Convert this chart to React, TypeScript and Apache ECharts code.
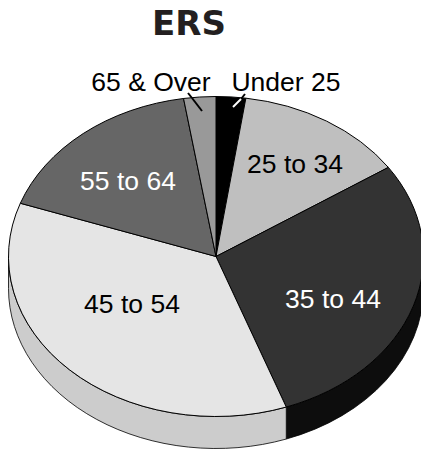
import React, { useEffect, useRef } from "react";
import * as echarts from "echarts";

const categories = ["Under 25", "25 to 34", "35 to 44", "45 to 54", "55 to 64", "65 & Over"];
const shares = [2.3, 13.3, 28.9, 35.9, 17.1, 2.5];

const topColors = ["#000000", "#bfbfbf", "#333333", "#e5e5e5", "#666666", "#999999"];
const wallColors = ["#000000", "#999999", "#0d0d0d", "#cccccc", "#333333", "#666666"];
const labelColors = ["#000000", "#000000", "#ffffff", "#000000", "#ffffff", "#000000"];
const labelCenters = [[286, 82], [295, 164], [333, 299], [132, 304], [128, 181], [151, 82]];
const leaders: number[][][] = [
  [[245, 94], [241, 99], [233, 107]],
  [],
  [],
  [],
  [],
  [[188, 93], [192, 98], [202, 111]],
];
const leaderColors = [["#000000", "#ffffff"], [], [], [], [], ["#000000", "#000000"]];

const CX = 216;
const CY = 256.5;
const RX = 207.5;
const RY = 160;
const DEPTH = 32;
const LABEL_FONT = "Liberation Sans, Arial, sans-serif";

const total = shares.reduce((a, b) => a + b, 0);
const starts = shares.map((_, i) => (shares.slice(0, i).reduce((a, b) => a + b, 0) / total) * 360);
const ends = shares.map((_, i) => (shares.slice(0, i + 1).reduce((a, b) => a + b, 0) / total) * 360);

const pt = (deg: number, dy = 0) => {
  const r = (deg * Math.PI) / 180;
  return [CX + RX * Math.sin(r), CY - RY * Math.cos(r) + dy];
};
const f = (n: number) => n.toFixed(2);

function topPath(a: number, b: number) {
  const [x1, y1] = pt(a);
  const [x2, y2] = pt(b);
  const large = b - a > 180 ? 1 : 0;
  return `M${f(CX)} ${f(CY)}L${f(x1)} ${f(y1)}A${RX} ${RY} 0 ${large} 1 ${f(x2)} ${f(y2)}Z`;
}
function wallPath(a: number, b: number) {
  const s = Math.max(a, 90);
  const e = Math.min(b, 270);
  if (e <= s) return null;
  const [x1, y1] = pt(s);
  const [x2, y2] = pt(e);
  const [x3, y3] = pt(e, DEPTH);
  const [x4, y4] = pt(s, DEPTH);
  const large = e - s > 180 ? 1 : 0;
  return `M${f(x1)} ${f(y1)}A${RX} ${RY} 0 ${large} 1 ${f(x2)} ${f(y2)}L${f(x3)} ${f(y3)}A${RX} ${RY} 0 ${large} 0 ${f(x4)} ${f(y4)}Z`;
}

export default function App() {
  const ref = useRef<HTMLDivElement>(null);
  useEffect(() => {
    const chart = echarts.init(ref.current!, null, { renderer: "svg" });
    chart.setOption({
      animation: false,
      backgroundColor: "#ffffff",
      title: {
        text: "ERS",
        left: 152,
        top: 6,
        padding: 0,
        textStyle: {
          fontFamily: "DejaVu Sans",
          fontWeight: "bold",
          fontSize: 34,
          color: "#231f20",
        },
      },
      series: [
        {
          type: "custom",
          coordinateSystem: "none",
          silent: true,
          data: shares,
          z: 1,
          renderItem: (params: any) => {
            const i = params.dataIndex;
            const children: any[] = [];
            const wall = wallPath(starts[i], ends[i]);
            if (wall) {
              children.push({
                type: "path",
                shape: { pathData: wall },
                style: { fill: wallColors[i], stroke: "#000000", lineWidth: 0.8 },
              });
            }
            children.push({
              type: "path",
              shape: { pathData: topPath(starts[i], ends[i]) },
              style: { fill: topColors[i], stroke: "#000000", lineWidth: 1 },
            });
            return { type: "group", children };
          },
        },
        {
          type: "custom",
          coordinateSystem: "none",
          silent: true,
          data: categories,
          z: 2,
          renderItem: (params: any) => {
            const i = params.dataIndex;
            const [x, y] = labelCenters[i];
            const children: any[] = [];
            const l = leaders[i];
            for (let k = 0; k + 1 < l.length; k++) {
              children.push({
                type: "line",
                shape: { x1: l[k][0], y1: l[k][1], x2: l[k + 1][0], y2: l[k + 1][1] },
                style: { stroke: leaderColors[i][k], lineWidth: 2 },
              });
            }
            children.push({
              type: "text",
              style: {
                x,
                y,
                text: categories[i],
                fill: labelColors[i],
                font: `26.5px ${LABEL_FONT}`,
                align: "center",
                verticalAlign: "middle",
              },
            });
            return { type: "group", children };
          },
        },
      ],
    });
    return () => chart.dispose();
  }, []);
  return (
    <div
      ref={ref}
      style={{ position: "fixed", left: 0, top: 0, width: 421, height: 449, overflow: "hidden" }}
    />
  );
}
